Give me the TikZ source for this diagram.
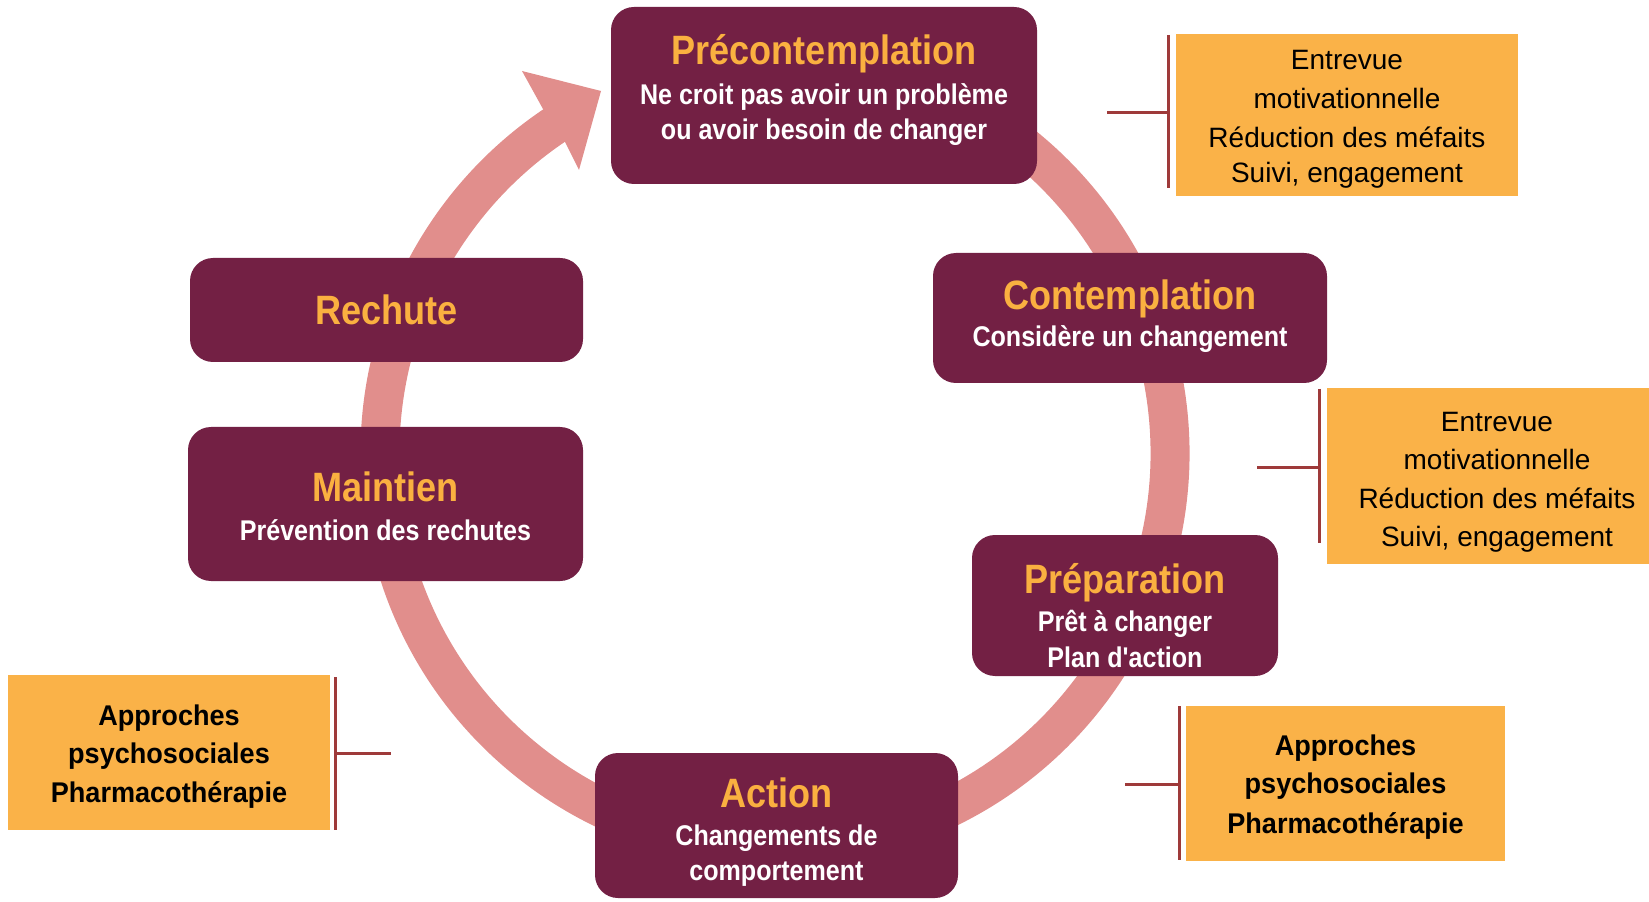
\documentclass[tikz,border=0pt]{standalone}
\usepackage{fontspec}
\setmainfont{Liberation Sans}
\newfontfamily\condb[FakeStretch=0.88]{Liberation Sans Bold}
\newfontfamily\orb[FakeStretch=0.95]{Liberation Sans Bold}
\definecolor{maroon}{RGB}{115,32,68}
\definecolor{ttlorange}{RGB}{250,176,64}
\definecolor{boxorange}{RGB}{250,178,72}
\definecolor{ringpink}{RGB}{225,142,140}
\definecolor{brkred}{RGB}{158,58,58}
\begin{document}
\begin{tikzpicture}[x=0.5pt,y=0.5pt,
  stagebox/.style={fill=maroon, draw=none, rounded corners=11.5pt, inner sep=0pt},
  notebox/.style={fill=boxorange, draw=none, inner sep=0pt},
  txt/.style={anchor=base, inner sep=0pt},
  ttl/.style={txt, text=ttlorange, font=\condb\fontsize{20.5pt}{20.5pt}\selectfont},
  sub/.style={txt, text=white, font=\condb\fontsize{14.25pt}{14.25pt}\selectfont},
  nreg/.style={txt, text=black, font=\fontsize{14pt}{14pt}\selectfont},
  nbold/.style={txt, text=black, font=\orb\fontsize{14.25pt}{14.25pt}\selectfont},
  brk/.style={draw=brkred, line width=1.5pt},
  ring/.style={draw=ringpink, line width=19.5pt}
]
\useasboundingbox (0,0) rectangle (1649,901);

% ring with arrow
\draw[ring] ([shift={(100:197.5pt)}]775,448) arc[start angle=100, end angle=-237.5, radius=197.5pt];
\fill[ringpink] (522,830) -- (601,810) -- (579,731) -- (565,759) -- (543,792) -- cycle;

% stage boxes
\node[stagebox, minimum width=213pt, minimum height=88.5pt] (pre) at (824,805.5) {};
\node[stagebox, minimum width=197pt, minimum height=65pt] (cont) at (1130,583) {};
\node[stagebox, minimum width=153pt, minimum height=70.5pt] (prep) at (1125,295.5) {};
\node[stagebox, minimum width=181.5pt, minimum height=72.5pt] (act) at (776.5,75.5) {};
\node[stagebox, minimum width=196.5pt, minimum height=52pt] (rech) at (386.5,591) {};
\node[stagebox, minimum width=197.5pt, minimum height=77pt] (main) at (385.5,397) {};

% stage texts
\node[ttl] (preT) at (824,836) {Précontemplation};
\node[sub] (preA) at (824,796) {Ne croit pas avoir un problème};
\node[sub] (preB) at (824,761) {ou avoir besoin de changer};

\node[ttl] (contT) at (1130,591) {Contemplation};
\node[sub] (contA) at (1130,554) {Considère un changement};

\node[ttl] (prepT) at (1125,308) {Préparation};
\node[sub] (prepA) at (1125,270) {Prêt à changer};
\node[sub] (prepB) at (1125,234) {Plan d'action};

\node[ttl] (actT) at (776.5,94) {Action};
\node[sub] (actA) at (776.5,56) {Changements de};
\node[sub] (actB) at (776.5,21) {comportement};

\node[ttl] (rechT) at (386.5,576) {Rechute};

\node[ttl] (mainT) at (385.5,400) {Maintien};
\node[sub] (mainA) at (385.5,361) {Prévention des rechutes};

% note boxes
\node[notebox, minimum width=171pt, minimum height=81pt] (n1) at (1347,786) {};
\node[notebox, minimum width=170pt, minimum height=88pt] (n2) at (1497,425) {};
\node[notebox, minimum width=159.5pt, minimum height=77.5pt] (n3) at (1345.5,117.5) {};
\node[notebox, minimum width=161pt, minimum height=77.5pt] (n4) at (169,148.5) {};

\node[nreg] (n1a) at (1347,831) {Entrevue};
\node[nreg] (n1b) at (1347,792) {motivationnelle};
\node[nreg] (n1c) at (1347,753) {Réduction des méfaits};
\node[nreg] (n1d) at (1347,718) {Suivi, engagement};

\node[nreg] (n2a) at (1497,469) {Entrevue};
\node[nreg] (n2b) at (1497,431) {motivationnelle};
\node[nreg] (n2c) at (1497,393) {Réduction des méfaits};
\node[nreg] (n2d) at (1497,355) {Suivi, engagement};

\node[nbold] (n3a) at (1345.5,146) {Approches};
\node[nbold] (n3b) at (1345.5,108) {psychosociales};
\node[nbold] (n3c) at (1345.5,68) {Pharmacothérapie};

\node[nbold] (n4a) at (169,176) {Approches};
\node[nbold] (n4b) at (169,138) {psychosociales};
\node[nbold] (n4c) at (169,99) {Pharmacothérapie};

% brackets
\coordinate (b1t) at (1168,866); \coordinate (b1b) at (1168,713);
\coordinate (b1m) at (1168,788); \coordinate (b1e) at (1107,788);
\draw[brk] (b1t) -- (b1b); \draw[brk] (b1e) -- (b1m);

\coordinate (b2t) at (1319,512); \coordinate (b2b) at (1319,358);
\coordinate (b2m) at (1319,434); \coordinate (b2e) at (1257,434);
\draw[brk] (b2t) -- (b2b); \draw[brk] (b2e) -- (b2m);

\coordinate (b3t) at (1179,195); \coordinate (b3b) at (1179,41);
\coordinate (b3m) at (1179,117); \coordinate (b3e) at (1125,117);
\draw[brk] (b3t) -- (b3b); \draw[brk] (b3e) -- (b3m);

\coordinate (b4t) at (335,224); \coordinate (b4b) at (335,71);
\coordinate (b4m) at (335,148); \coordinate (b4e) at (391,148);
\draw[brk] (b4t) -- (b4b); \draw[brk] (b4m) -- (b4e);
\end{tikzpicture}
\end{document}
